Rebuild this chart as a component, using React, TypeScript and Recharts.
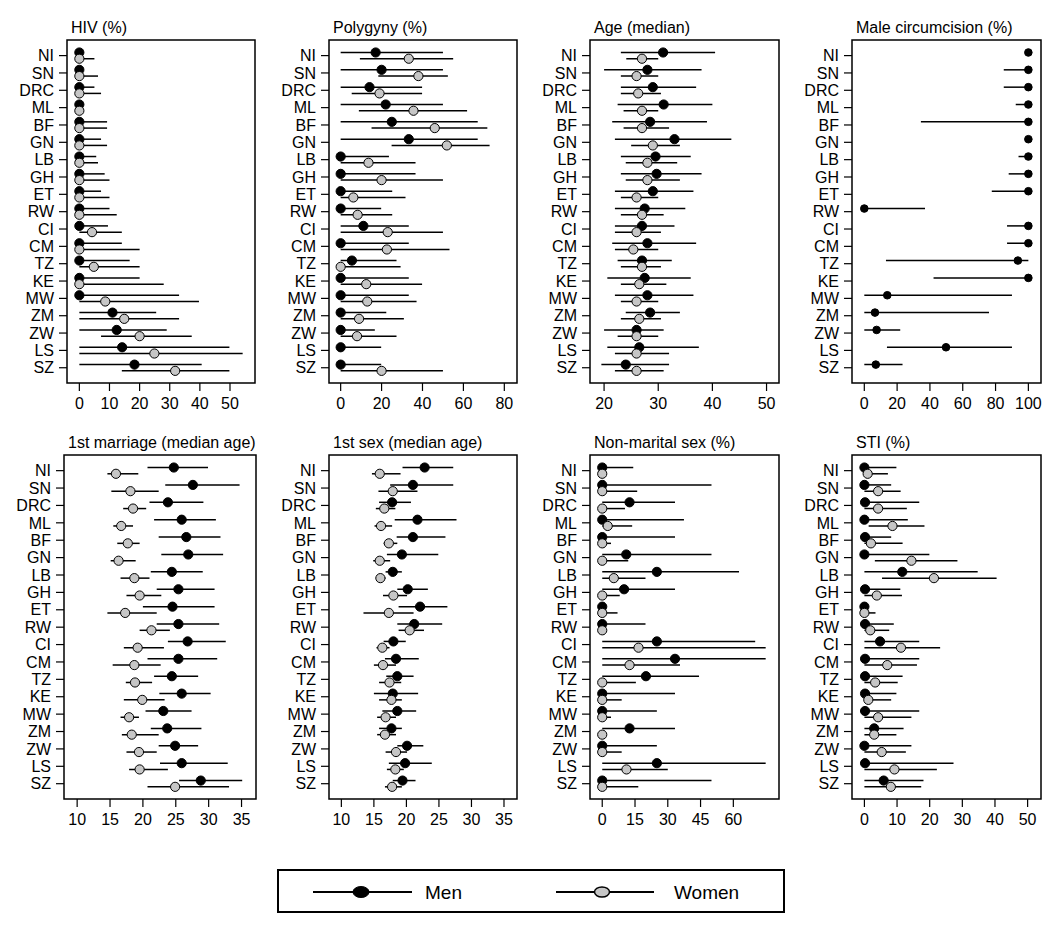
import React from 'react';
import { ScatterChart, Scatter, XAxis, YAxis, ErrorBar, ReferenceArea } from 'recharts';

const countries = ['NI', 'SN', 'DRC', 'ML', 'BF', 'GN', 'LB', 'GH', 'ET', 'RW', 'CI', 'CM', 'TZ', 'KE', 'MW', 'ZM', 'ZW', 'LS', 'SZ'];

// HIV (%)
const hivMen = [0, 0, 0, 0, 0, 0, 0, 0, 0, 0, 0, 0, 0, 0, 0, 11, 12.4, 14.2, 18.3];
const hivMenLo = [0, 0, 0, 0, 0, 0, 0, 0, 0, 0, 0, 0, 0, 0, 0, 0, 0, 0, 0];
const hivMenHi = [1, 1, 5, 0, 9.2, 7.2, 5.6, 8.4, 7.2, 10, 9.5, 14.1, 16.7, 20, 33.1, 25.5, 29, 49.8, 40.6];
const hivWomen = [0, 0, 0, 0, 0, 0, 0, 0, 0, 0, 4.2, 0, 4.8, 0, 8.6, 14.9, 20, 24.9, 31.8];
const hivWomenLo = [0, 0, 0, 0, 0, 0, 0, 0, 0, 0, 0, 0, 0, 0, 0, 0, 7.2, 0, 14.1];
const hivWomenHi = [5, 6.2, 7.2, 0, 9.2, 9.2, 6.2, 10, 10, 12.4, 14.1, 20, 20, 28, 39.7, 33.1, 37.3, 54.2, 49.8];

// Polygyny (%)
const polyMen = [17.1, 20, 14.1, 22, 25, 33.3, 0, 0, 0, 0, 11.1, 0, 5.5, 0, 0, 0, 0, 0, 0];
const polyMenLo = [0, 0, 0, 0, 0, 0, 0, 0, 0, 0, 0, 0, 0, 0, 0, 0, 0, 0, 0];
const polyMenHi = [50, 50, 39.8, 50, 67, 67, 23.6, 36.6, 25.2, 19.8, 33.3, 33.3, 27.3, 33.3, 33.3, 22.3, 16.7, 19.8, 19.8];
const polyWomen = [33.3, 38, 19, 35.6, 46, 51.9, 13.6, 20, 6.2, 8.3, 23, 22.6, 0, 12.5, 13, 9, 8, null, 20];
const polyWomenLo = [9.4, 18.4, 5.4, 8.9, 15.1, 24.9, 0, 0, 0, 0, 0, 0, 0, 0, 0, 0, 0, null, 0];
const polyWomenHi = [55, 52.4, 39.8, 61.8, 71.7, 72.8, 36.6, 50, 31.7, 25.2, 50, 53.2, 29.3, 39.8, 37.1, 30.9, 27.3, null, 50];

// Age (median)
const ageMen = [30.9, 28, 29, 31, 28.5, 33, 29.5, 29.7, 29, 27.5, 27, 28, 27, 27.5, 28, 28.5, 26, 26.5, 24];
const ageMenLo = [23.1, 20, 23.1, 22.5, 21.5, 22, 23.1, 23.1, 22, 22, 22, 21.5, 22.5, 20.6, 22, 24, 20, 20.6, 19.5];
const ageMenHi = [40.5, 38, 37, 40, 39, 43.5, 36, 38, 36.5, 35, 33, 37, 32.5, 36, 36.5, 34, 31, 37.5, 32];
const ageWomen = [27, 26, 26.3, 27, 27, 29, 28, 28, 26, 27, 26, 25.4, 27, 26.5, 26, 26.5, 26, 26, 26];
const ageWomenLo = [24.1, 23.1, 23.1, 23.6, 23.6, 25, 24, 24, 23.1, 23.1, 22, 22, 23.1, 23.1, 23.1, 23.1, 22.5, 22, 22];
const ageWomenHi = [30, 30, 30.5, 30, 32, 34, 33.5, 34, 30, 31, 30.5, 30, 30.5, 31.5, 30, 30.5, 30, 32, 31];

// Male circumcision (%)
const circMen = [100, 100, 100, 100, 100, 100, 100, 100, 100, 0, 100, 100, 93.6, 100, 14, 6.5, 7.5, 49.8, 7];
const circMenLo = [100, 85, 85, 92.3, 34.5, 100, 94, 88, 77.7, 0, 87, 87, 13.2, 42.2, 0, 0, 0, 13.8, 0];
const circMenHi = [100, 100, 100, 100, 100, 100, 100, 100, 100, 37, 100, 100, 100, 100, 90, 76, 21.9, 90, 23.3];

// 1st marriage (median age)
const marMen = [24.7, 27.6, 23.8, 25.9, 26.6, 26.9, 24.4, 25.4, 24.5, 25.4, 26.8, 25.4, 24.4, 25.9, 23.1, 23.7, 24.9, 25.9, 28.8];
const marMenLo = [20.7, 23.4, 21, 21.7, 22.4, 22.8, 21.2, 22.1, 20, 22.1, 23.8, 20.7, 21.7, 22.5, 20.4, 21.2, 22.4, 22.6, 25.5];
const marMenHi = [29.9, 34.7, 29.2, 31.1, 31.8, 32.2, 29.1, 30.9, 30.9, 31.6, 32.6, 31.3, 28.4, 30.3, 27.4, 28.9, 28.4, 32.9, 35.1];
const marWomen = [15.9, 18.1, 18.5, 16.7, 17.7, 16.3, 18.7, 19.5, 17.3, 21.3, 19.2, 18.7, 18.8, 19.9, 17.9, 18.3, 19.4, 19.5, 24.9];
const marWomenLo = [14.6, 15.2, 17, 15.5, 16.1, 15.1, 16.6, 17.5, 14.6, 19.5, 17.1, 15.4, 17.4, 17.1, 16.6, 16.8, 17.5, 17.9, 20.7];
const marWomenHi = [19.3, 22.4, 20.5, 18.5, 19.5, 18.9, 21, 22.8, 22.1, 24.1, 23.2, 22.7, 21.4, 23.3, 19.4, 22.4, 22.1, 23.8, 33.1];

// 1st sex (median age)
const sexMen = [22.8, 21, 17.8, 21.7, 21, 19.3, 17.9, 20.2, 22.1, 21.2, 18, 18.4, 18.6, 17.9, 18.6, 17.7, 20.1, 19.8, 19.4];
const sexMenLo = [19.4, 17.5, 15.8, 18.2, 18.5, 17, 16.8, 18.6, 18.8, 18.6, 16.5, 16.7, 16.9, 15, 16.3, 15.8, 18.6, 17.3, 17.9];
const sexMenHi = [27.2, 27.2, 20.7, 27.7, 26, 24.9, 19.3, 23.3, 26.3, 25.5, 19.9, 21.9, 21.1, 21.8, 21.5, 19.3, 22.6, 23.9, 21.4];
const sexWomen = [15.9, 17.9, 16.6, 16.1, 17.3, 15.9, 16, 18, 17.3, 20.5, 16.3, 16.4, 17.4, 17.7, 16.8, 16.7, 18.4, 18.3, 17.8];
const sexWomenLo = [14.7, 15.7, 15.3, 15.1, 16.5, 14.9, 15.3, 16.4, 13.4, 18.8, 15.4, 15, 15.8, 15.8, 15.5, 15.5, 16.8, 17, 16.7];
const sexWomenHi = [19.1, 21.7, 18.3, 17.8, 18.6, 17.5, 16.8, 20.1, 21.1, 22.7, 17.4, 18.4, 19.2, 19.3, 18.4, 18.4, 20.1, 19.6, 19.3];

// Non-marital sex (%)
const nmsMen = [0, 0, 12.5, 0, 0, 11, 25, 10, 0, 0, 25, 33.3, 20, 0, 0, 12.5, 0, 25, 0];
const nmsMenLo = [0, 0, 0, 0, 0, 0, 0, 0, 0, 0, 0, 0, 0, 0, 0, 0, 0, 0, 0];
const nmsMenHi = [14.2, 50, 33.3, 37.4, 33.3, 50, 62.6, 33.3, 0, 19.8, 70, 74.8, 44.3, 33.3, 25, 33.3, 25, 74.8, 50];
const nmsWomen = [0, 0, 0, 2.5, 0, 0, 5.3, 0, 0, 0, 16.6, 12.5, 0, 0, 0, 0, 0, 11.1, 0];
const nmsWomenLo = [0, 0, 0, 0, 0, 0, 0, 0, 0, 0, 0, 0, 0, 0, 0, 0, 0, 0, 0];
const nmsWomenHi = [0, 16, 10.4, 13.7, 4, 11.9, 19.8, 8, 7, 0, 74.8, 35.6, 15.4, 8.9, 4, 0, 8.9, 30, 16.5];

// STI (%)
const stiMen = [0, 0, 0.2, 0, 0.2, 0, 11.6, 0.2, 0, 0.2, 4.8, 0.2, 0.2, 0.2, 0.2, 3, 0, 0.2, 5.9];
const stiMenLo = [0, 0, 0, 0, 0, 0, 0, 0, 0, 0, 0, 0, 0, 0, 0, 0, 0, 0, 0];
const stiMenHi = [9.8, 8.2, 16.8, 13.3, 8.2, 19.9, 34.7, 11, 1, 9, 16.8, 16.8, 11.7, 9.8, 16.8, 12, 14.4, 27.3, 18.1];
const stiWomen = [1, 4.2, 4.2, 8.6, 2, 14.4, 21.3, 3.8, 0, 1.8, 11.2, 7, 3.3, 1.2, 4.2, 3, 5.3, 9.2, 8.1];
const stiWomenLo = [0, 0, 0, 1.3, 0, 3.2, 5.4, 0, 0, 0, 0, 0, 0, 0, 0, 0, 0, 0, 0];
const stiWomenHi = [7.2, 11.1, 13, 18.4, 11.7, 28.5, 40.5, 11.5, 3.4, 7.6, 23.2, 16.1, 10.2, 8.2, 14.4, 9.8, 12.7, 22.2, 17.4];

const FONT = '"Liberation Sans", Arial, Helvetica, sans-serif';
const Y_AXIS_W = 60;
const X_AXIS_H = 40;
const PAD = 4;
const OFF = 0.18;
const Y_DOMAIN: [number, number] = [0.1, 19.88];
const ROW_TICKS = countries.map((_, i) => i + 1);
const GREY = '#c6c6c6';

type Row = { x: number; y: number; err: [number, number] };

function buildRows(vals: (number | null)[], lo: (number | null)[], hi: (number | null)[], shift: number): Row[] {
  const rows: Row[] = [];
  vals.forEach((v, i) => {
    if (v == null) return;
    const l = lo[i] as number;
    const h = hi[i] as number;
    rows.push({ x: v, y: i + 1 + shift, err: [v - l, h - v] });
  });
  return rows;
}

type PanelProps = {
  title: string;
  left: number;
  top: number;
  w: number;
  h: number;
  domain: [number, number];
  ticks: number[];
  men: number[];
  menLo: number[];
  menHi: number[];
  women?: (number | null)[];
  womenLo?: (number | null)[];
  womenHi?: (number | null)[];
  dotR?: number;
};

const tickStyle = { fill: '#000', fontSize: 16, fontFamily: FONT };

function Panel(p: PanelProps) {
  const menRows = buildRows(p.men, p.menLo, p.menHi, -OFF);
  const womenRows = p.women ? buildRows(p.women, p.womenLo || [], p.womenHi || [], OFF) : [];
  const r = p.dotR ?? 4.6;
  return (
    <>
      <div
        style={{
          position: 'absolute',
          left: p.left + 4,
          top: p.top - 20,
          fontFamily: FONT,
          fontSize: 16,
          lineHeight: '16px',
          color: '#000',
          whiteSpace: 'nowrap',
        }}
      >
        {p.title}
      </div>
      <div style={{ position: 'absolute', left: p.left - Y_AXIS_W, top: p.top - PAD }}>
        <ScatterChart
          width={Y_AXIS_W + p.w + PAD}
          height={p.h + X_AXIS_H + PAD}
          margin={{ top: PAD, right: PAD, bottom: 0, left: 0 }}
        >
          <XAxis
            type="number"
            dataKey="x"
            domain={p.domain}
            ticks={p.ticks}
            interval={0}
            allowDataOverflow
            axisLine={false}
            tickLine={{ stroke: '#000', strokeWidth: 1.2 }}
            tickSize={8}
            tickMargin={7}
            height={X_AXIS_H}
            tick={tickStyle}
          />
          <YAxis
            type="number"
            dataKey="y"
            domain={Y_DOMAIN}
            reversed
            ticks={ROW_TICKS}
            interval={0}
            allowDataOverflow
            tickFormatter={(v: number) => countries[v - 1]}
            axisLine={false}
            tickLine={{ stroke: '#000', strokeWidth: 1.2 }}
            tickSize={8}
            tickMargin={5}
            width={Y_AXIS_W}
            tick={tickStyle}
          />
          <ReferenceArea
            x1={p.domain[0]}
            x2={p.domain[1]}
            y1={Y_DOMAIN[0]}
            y2={Y_DOMAIN[1]}
            fill="none"
            fillOpacity={0}
            stroke="#000"
            strokeWidth={1.5}
            strokeOpacity={1}
            ifOverflow="visible"
          />
          <Scatter
            data={menRows}
            isAnimationActive={false}
            shape={(s: any) => <circle cx={s.cx} cy={s.cy} r={r} fill="#000" stroke="#000" strokeWidth={1} />}
          >
            <ErrorBar dataKey="err" direction="x" width={0} stroke="#000" strokeWidth={1.5} isAnimationActive={false} />
          </Scatter>
          {womenRows.length > 0 && (
            <Scatter
              data={womenRows}
              isAnimationActive={false}
              shape={(s: any) => <circle cx={s.cx} cy={s.cy} r={r} fill={GREY} stroke="#000" strokeWidth={1} />}
            >
              <ErrorBar dataKey="err" direction="x" width={0} stroke="#000" strokeWidth={1.5} isAnimationActive={false} />
            </Scatter>
          )}
        </ScatterChart>
      </div>
    </>
  );
}

function LegendBox() {
  return (
    <svg
      width={510}
      height={46}
      style={{ position: 'absolute', left: 276, top: 868 }}
    >
      <rect x={2} y={2} width={506} height={42} fill="#fff" stroke="#000" strokeWidth={2} />
      <line x1={37} x2={136} y1={24} y2={24} stroke="#000" strokeWidth={2} />
      <ellipse cx={85} cy={24} rx={8} ry={5.5} fill="#000" stroke="#000" strokeWidth={1} />
      <text x={149} y={31} fontFamily={FONT} fontSize={19} fill="#000">Men</text>
      <line x1={280} x2={378} y1={24} y2={24} stroke="#000" strokeWidth={2} />
      <ellipse cx={326} cy={24} rx={7.5} ry={5} fill={GREY} stroke="#000" strokeWidth={1.5} />
      <text x={398} y={31} fontFamily={FONT} fontSize={19} fill="#000">Women</text>
    </svg>
  );
}

export default function App() {
  return (
    <div style={{ position: 'absolute', left: 0, top: 0, width: 1050, height: 928, background: '#fff', overflow: 'hidden' }}>
      <Panel title="HIV (%)" left={67} top={40} w={188} h={343} domain={[-4.1, 58.3]} ticks={[0, 10, 20, 30, 40, 50]}
        men={hivMen} menLo={hivMenLo} menHi={hivMenHi} women={hivWomen} womenLo={hivWomenLo} womenHi={hivWomenHi} />
      <Panel title="Polygyny (%)" left={329} top={40} w={188} h={343} domain={[-5.7, 86.2]} ticks={[0, 20, 40, 60, 80]}
        men={polyMen} menLo={polyMenLo} menHi={polyMenHi} women={polyWomen} womenLo={polyWomenLo} womenHi={polyWomenHi} />
      <Panel title="Age (median)" left={590} top={40} w={189} h={343} domain={[17.4, 52.3]} ticks={[20, 30, 40, 50]}
        men={ageMen} menLo={ageMenLo} menHi={ageMenHi} women={ageWomen} womenLo={ageWomenLo} womenHi={ageWomenHi} />
      <Panel title="Male circumcision (%)" left={852} top={40} w={189} h={343} domain={[-7.5, 107.7]} ticks={[0, 20, 40, 60, 80, 100]}
        men={circMen} menLo={circMenLo} menHi={circMenHi} dotR={3.8} />
      <Panel title="1st marriage (median age)" left={64} top={455} w={192} h={344} domain={[8.0, 37.2]} ticks={[10, 15, 20, 25, 30, 35]}
        men={marMen} menLo={marMenLo} menHi={marMenHi} women={marWomen} womenLo={marWomenLo} womenHi={marWomenHi} />
      <Panel title="1st sex (median age)" left={329} top={455} w={188} h={344} domain={[8.1, 37.0]} ticks={[10, 15, 20, 25, 30, 35]}
        men={sexMen} menLo={sexMenLo} menHi={sexMenHi} women={sexWomen} womenLo={sexWomenLo} womenHi={sexWomenHi} />
      <Panel title="Non-marital sex (%)" left={590} top={455} w={189} h={344} domain={[-5.6, 80.9]} ticks={[0, 15, 30, 45, 60]}
        men={nmsMen} menLo={nmsMenLo} menHi={nmsMenHi} women={nmsWomen} womenLo={nmsWomenLo} womenHi={nmsWomenHi} />
      <Panel title="STI (%)" left={852} top={455} w={189} h={344} domain={[-3.8, 54.1]} ticks={[0, 10, 20, 30, 40, 50]}
        men={stiMen} menLo={stiMenLo} menHi={stiMenHi} women={stiWomen} womenLo={stiWomenLo} womenHi={stiWomenHi} />
      <LegendBox />
    </div>
  );
}
